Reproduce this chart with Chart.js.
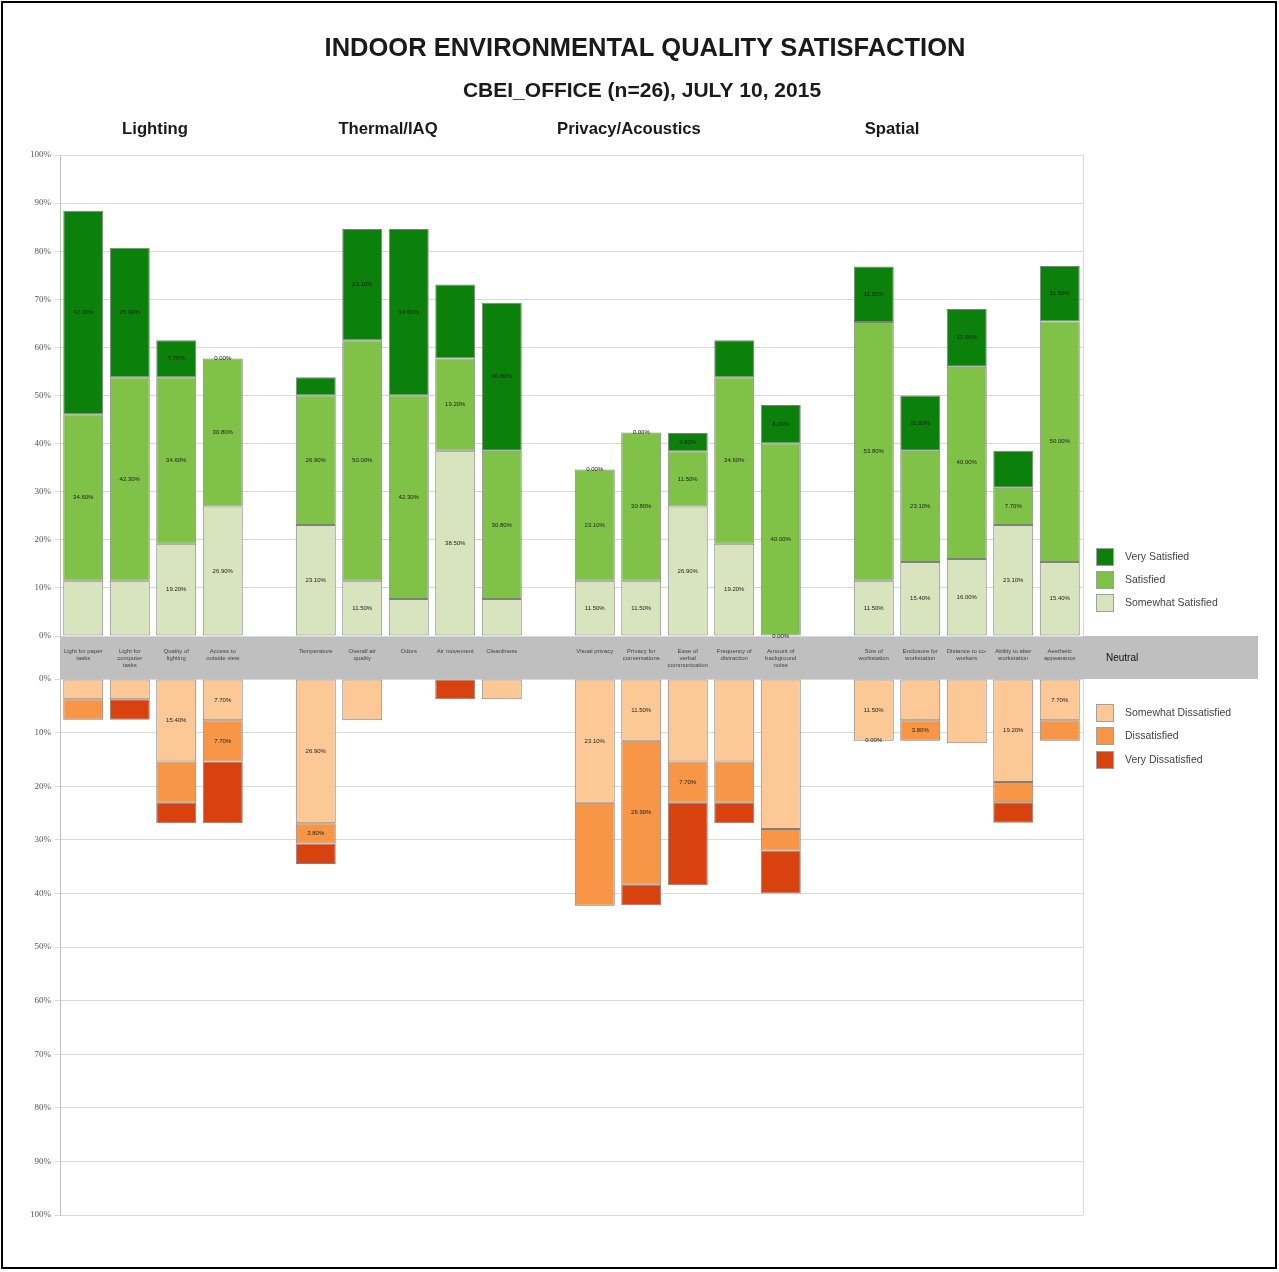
<!DOCTYPE html>
<html><head><meta charset="utf-8">
<script src="https://cdn.jsdelivr.net/npm/chart.js@4.4.1/dist/chart.umd.min.js"></script>
<style>
html,body{margin:0;padding:0;background:#fff;}
#wrap{position:relative;width:1279px;height:1272px;}
canvas{display:block;}
#frame{position:absolute;left:1px;top:1px;width:1272px;height:1264px;border:2px solid #000;pointer-events:none;}
</style>
</head><body>
<div id="wrap"><canvas id="c" width="1279" height="1272"></canvas><div id="frame"></div></div>
<script>
// ---- data ----
const categories = [
  ["Light for paper","tasks"], ["Light for","computer","tasks"], ["Quality of","lighting"], ["Access to","outside view"], "",
  "Temperature", ["Overall air","quality"], "Odors", "Air movement", "Cleanliness", "",
  "Visual privacy", ["Privacy for","conversations"], ["Ease of","verbal","communication"], ["Frequency of","distraction"], ["Amount of","background","noise"], "",
  ["Size of","workstation"], ["Enclosure for","workstation"], ["Distance to co-","workers"], ["Ability to alter","workstation"], ["Aesthetic","appearance"]
];
const groupTitles = ["Lighting", "Thermal/IAQ", "Privacy/Acoustics", "Spatial"];
const somewhatSatisfied = [11.5, 11.5, 19.2, 26.9, null, 23.1, 11.5, 7.7, 38.5, 7.7, null, 11.5, 11.5, 26.9, 19.2, 0, null, 11.5, 15.4, 16.0, 23.1, 15.4];
const satisfied         = [34.6, 42.3, 34.6, 30.8, null, 26.9, 50.0, 42.3, 19.2, 30.8, null, 23.1, 30.8, 11.5, 34.6, 40.0, null, 53.8, 23.1, 40.0, 7.7, 50.0];
const verySatisfied     = [42.3, 26.9, 7.7, 0, null, 3.8, 23.1, 34.6, 15.4, 30.8, null, 0, 0, 3.8, 7.7, 8.0, null, 11.5, 11.5, 12.0, 7.7, 11.5];
const somewhatDissatisfied = [3.8, 3.8, 15.4, 7.7, null, 26.9, 7.7, 0, 0, 3.8, null, 23.1, 11.5, 15.4, 15.4, 28.0, null, 11.5, 7.7, 12.0, 19.2, 7.7];
const dissatisfied         = [3.8, 0, 7.7, 7.7, null, 3.8, 0, 0, 0, 0, null, 19.2, 26.9, 7.7, 7.7, 4.0, null, 0, 3.8, 0, 3.8, 3.8];
const veryDissatisfied     = [0, 3.8, 3.8, 11.5, null, 3.8, 0, 0, 3.8, 0, null, 0, 3.8, 15.4, 3.8, 8.0, null, 0, 0, 0, 3.8, 0];
// which segments carry a value label in the original
const ssLabels  = [0,0,1,1,0, 1,1,0,1,0, 0, 1,1,1,1,1, 0, 1,1,1,1,1];
const satLabels = [1,1,1,1,0, 1,1,1,1,1, 0, 1,1,1,1,1, 0, 1,1,1,1,1];
const vsLabels  = [1,1,1,1,0, 0,1,1,0,1, 0, 1,1,1,0,1, 0, 1,1,1,0,1];
const sdLabels  = [0,0,1,1,0, 1,0,0,0,0, 0, 1,1,0,0,0, 0, 1,0,0,1,1];
const dLabels   = [0,0,0,1,0, 1,0,0,0,0, 0, 0,1,1,0,0, 0, 1,1,0,0,0];
const vdLabels  = [0,0,0,0,0, 0,0,0,0,0, 0, 0,0,0,0,0, 0, 0,0,0,0,0];
const tickValues = [0,10,20,30,40,50,60,70,80,90,100];

// ---- styles ----
const COL = {vs:'#0b800b', sat:'#80c247', ss:'#d8e4bd', sd:'#fcc996', d:'#f79646', vd:'#d8420f'};
const EDGE = '#808080';

function ds(label, data, color, axis, lbls){
  return {label, data, backgroundColor: color, borderColor: EDGE, borderWidth: 1, borderSkipped: false,
          yAxisID: axis, showLbl: lbls, categoryPercentage: 1.0, barPercentage: 0.86};
}

const decor = {
  id: 'decor',
  beforeDraw(chart){
    const ctx = chart.ctx, ca = chart.chartArea;
    const yT = chart.scales.yTop, yB = chart.scales.yBot;
    ctx.save();
    ctx.fillStyle = '#fff'; ctx.fillRect(0,0,chart.width,chart.height);
    // neutral band
    ctx.fillStyle = '#bfbfbf';
    ctx.fillRect(ca.left, yT.bottom, 1258 - ca.left, yB.top - yT.bottom);
    ctx.fillStyle = '#111'; ctx.font = '10px "Liberation Sans", Arial, sans-serif';
    ctx.textAlign = 'left'; ctx.textBaseline = 'middle';
    ctx.fillText('Neutral', 1106, (yT.bottom + yB.top)/2 + 1);
    // right border of plot
    ctx.strokeStyle = '#d9d9d9'; ctx.lineWidth = 1;
    ctx.beginPath();
    ctx.moveTo(ca.right + 0.5, yT.top); ctx.lineTo(ca.right + 0.5, yT.bottom);
    ctx.moveTo(ca.right + 0.5, yB.top); ctx.lineTo(ca.right + 0.5, yB.bottom);
    ctx.stroke();
    // titles
    ctx.fillStyle = '#1a1a1a'; ctx.textAlign = 'center'; ctx.textBaseline = 'middle';
    ctx.font = 'bold 25.5px "Liberation Sans", Arial, sans-serif';
    ctx.fillText('INDOOR ENVIRONMENTAL QUALITY SATISFACTION', 645, 49);
    ctx.font = 'bold 21px "Liberation Sans", Arial, sans-serif';
    ctx.fillText('CBEI_OFFICE (n=26), JULY 10, 2015', 642, 91);
    ctx.font = 'bold 16.7px "Liberation Sans", Arial, sans-serif';
    const gx = [155, 388, 629, 892];
    groupTitles.forEach((t,i)=>ctx.fillText(t, gx[i], 129));
    // legend
    const items = [
      ['Very Satisfied', COL.vs, 557], ['Satisfied', COL.sat, 580], ['Somewhat Satisfied', COL.ss, 603],
      ['Somewhat Dissatisfied', COL.sd, 713], ['Dissatisfied', COL.d, 736], ['Very Dissatisfied', COL.vd, 760]
    ];
    ctx.textAlign = 'left';
    ctx.font = '10.5px "Liberation Sans", Arial, sans-serif';
    items.forEach(([t,c,y])=>{
      ctx.fillStyle = c; ctx.fillRect(1096, y-9, 18, 18);
      ctx.strokeStyle = '#a0a0a0'; ctx.strokeRect(1096.5, y-8.5, 17, 17);
      ctx.fillStyle = '#444'; ctx.fillText(t, 1125, y);
    });
    ctx.restore();
  },
  afterDatasetsDraw(chart){
    const ctx = chart.ctx;
    ctx.save();
    ctx.font = '6px "Liberation Sans", Arial, sans-serif';
    ctx.fillStyle = '#222'; ctx.textAlign = 'center'; ctx.textBaseline = 'middle';
    chart.data.datasets.forEach((d,i)=>{
      const meta = chart.getDatasetMeta(i);
      meta.data.forEach((el,j)=>{
        if (d.data[j] == null || !d.showLbl[j]) return;
        ctx.fillText(d.data[j].toFixed(2) + '%', el.x, (el.y + el.base)/2);
      });
    });
    ctx.restore();
  }
};

const yTickStyle = {font:{size:9, family:'"Liberation Serif", serif'}, color:'#555', padding:4};
const gridStyle = {color:'#d9d9d9', lineWidth:1, tickLength:5, drawTicks:true};

new Chart(document.getElementById('c'), {
  type: 'bar',
  data: {
    labels: categories,
    datasets: [
      ds('Somewhat Satisfied', somewhatSatisfied, COL.ss, 'yTop', ssLabels),
      ds('Satisfied', satisfied, COL.sat, 'yTop', satLabels),
      ds('Very Satisfied', verySatisfied, COL.vs, 'yTop', vsLabels),
      ds('Somewhat Dissatisfied', somewhatDissatisfied, COL.sd, 'yBot', sdLabels),
      ds('Dissatisfied', dissatisfied, COL.d, 'yBot', dLabels),
      ds('Very Dissatisfied', veryDissatisfied, COL.vd, 'yBot', vdLabels)
    ]
  },
  options: {
    responsive: false, animation: false, devicePixelRatio: 1,
    layout: {padding: {left: 0, right: 196, top: 155, bottom: 57}},
    plugins: {legend: {display: false}, tooltip: {enabled: false}, title: {display: false}},
    scales: {
      x: {
        stacked: true, position: {yTop: 0},
        grid: {display: false}, border: {display: false},
        ticks: {autoSkip: false, maxRotation: 0, minRotation: 0, padding: 4, z: 1,
                font: {size: 6, family: '"Liberation Sans", Arial, sans-serif', lineHeight: 1.15}, color: '#444'}
      },
      yBot: {
        type: 'linear', position: 'left', stack: 'v', stackWeight: 536, stacked: true, reverse: true,
        min: 0, max: 100,
        afterBuildTicks: s => { s.ticks = tickValues.map(v => ({value: v})); },
        ticks: Object.assign({callback: v => v + '%'}, yTickStyle),
        grid: gridStyle, border: {display: true, color: '#bfbfbf'},
        afterFit: s => { s.width = 60; }
      },
      yBand: {
        type: 'linear', position: 'left', stack: 'v', stackWeight: 43,
        min: 0, max: 1, ticks: {display: false}, grid: {display: false}, border: {display: false},
        afterFit: s => { s.width = 60; }
      },
      yTop: {
        type: 'linear', position: 'left', stack: 'v', stackWeight: 481, stacked: true,
        min: 0, max: 100,
        afterBuildTicks: s => { s.ticks = tickValues.map(v => ({value: v})); },
        ticks: Object.assign({callback: v => v + '%'}, yTickStyle),
        grid: gridStyle, border: {display: true, color: '#bfbfbf'},
        afterFit: s => { s.width = 60; }
      }
    }
  },
  plugins: [decor]
});
</script>
</body></html>
